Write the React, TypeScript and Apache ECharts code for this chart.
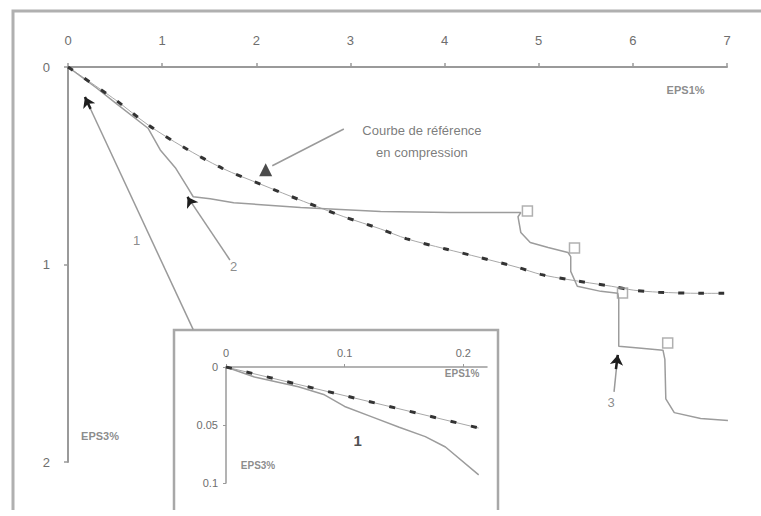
import React, { useEffect, useRef } from "react";
import * as echarts from "echarts";

// Main plot: strain EPS1% (horizontal) vs EPS3% (vertical, increasing downward)
const xTicks = [0, 1, 2, 3, 4, 5, 6, 7];
const yTicks = [0, 1, 2];

// Reference curve in compression (dashed)
const refX = [0, 0.5, 0.85, 1.22, 1.64, 2.06, 2.5, 2.93, 3.32, 3.6, 4.0, 4.38, 4.78, 5.02, 5.31, 5.77, 6.01, 6.27, 6.72, 6.97];
const refY = [0, 0.165, 0.293, 0.404, 0.513, 0.596, 0.68, 0.758, 0.82, 0.87, 0.92, 0.965, 1.015, 1.05, 1.076, 1.11, 1.13, 1.14, 1.146, 1.146];

// Test path (solid)
const testX = [0, 0.3, 0.5, 0.85, 0.98, 1.14, 1.27, 1.33, 1.51, 1.76, 2.47, 3.32, 4.06, 4.81, 4.78, 4.81, 4.91, 5.1, 5.31, 5.34, 5.34, 5.41, 5.66, 5.84, 5.85, 5.85, 6.09, 6.32, 6.34, 6.35, 6.44, 6.72, 7.01];
const testY = [0, 0.105, 0.18, 0.31, 0.42, 0.51, 0.61, 0.657, 0.667, 0.687, 0.712, 0.732, 0.737, 0.737, 0.758, 0.838, 0.889, 0.914, 0.939, 0.96, 1.035, 1.11, 1.136, 1.146, 1.177, 1.414, 1.424, 1.434, 1.48, 1.68, 1.75, 1.78, 1.79];

// Open square markers along the test path
const markX = [4.88, 5.38, 5.89, 6.37];
const markY = [0.729, 0.916, 1.144, 1.397];

// Inset: zoom on the origin
const insetXTicks = [0, 0.1, 0.2];
const insetYTicks = [0, 0.05, 0.1];
const insetRefX = [0, 0.213];
const insetRefY = [0, 0.0526];
const insetTestX = [0, 0.024, 0.061, 0.083, 0.1, 0.123, 0.146, 0.168, 0.185, 0.213];
const insetTestY = [0, 0.0086, 0.017, 0.024, 0.034, 0.043, 0.052, 0.06, 0.069, 0.093];

const pairs = (xs: number[], ys: number[]) => xs.map((x, i) => [x, ys[i]]);

const AXIS = "#9a9a9a";
const TEXT = "#6e6e6e";
const FONT = "Arial, 'Liberation Sans', sans-serif";

function textPoint(x: number, y: number, text: string, extra: any = {}) {
  return {
    value: [x, y],
    label: {
      show: true,
      position: "inside",
      formatter: text,
      color: TEXT,
      fontFamily: FONT,
      fontSize: 12,
      ...extra,
    },
  };
}

export default function App() {
  const ref = useRef<HTMLDivElement>(null);

  useEffect(() => {
    if (!ref.current) return;
    const chart = echarts.init(ref.current, null, { renderer: "svg" });

    const option: any = {
      animation: false,
      backgroundColor: "#ffffff",
      grid: [
        { left: 68, top: 67, width: 659, height: 395 },
        { left: 226, top: 367, width: 261, height: 116 },
      ],
      xAxis: [
        {
          type: "value",
          gridIndex: 0,
          position: "top",
          min: 0,
          max: 7,
          interval: 1,
          axisLine: { show: true, onZero: false, lineStyle: { color: AXIS, width: 2 } },
          axisTick: { show: true, length: 4, lineStyle: { color: AXIS, width: 1.5 } },
          axisLabel: {
            margin: 20,
            color: TEXT,
            fontSize: 13,
            fontFamily: FONT,
            customValues: xTicks,
          },
          splitLine: { show: false },
        },
        {
          type: "value",
          gridIndex: 1,
          position: "top",
          min: 0,
          max: 0.22,
          interval: 0.1,
          axisLine: { show: true, onZero: false, lineStyle: { color: AXIS, width: 1.5 } },
          axisTick: { show: true, length: 3, customValues: insetXTicks, lineStyle: { color: AXIS } },
          axisLabel: {
            margin: 9,
            color: TEXT,
            fontSize: 11,
            fontFamily: FONT,
            customValues: insetXTicks,
            formatter: (v: number) => String(v),
          },
          splitLine: { show: false },
        },
      ],
      yAxis: [
        {
          type: "value",
          gridIndex: 0,
          inverse: true,
          min: 0,
          max: 2,
          interval: 1,
          axisLine: { show: true, onZero: false, lineStyle: { color: AXIS, width: 2 } },
          axisTick: { show: true, length: 4, lineStyle: { color: AXIS, width: 1.5 } },
          axisLabel: {
            margin: 18,
            color: TEXT,
            fontSize: 13,
            fontFamily: FONT,
            customValues: yTicks,
          },
          splitLine: { show: false },
        },
        {
          type: "value",
          gridIndex: 1,
          inverse: true,
          min: 0,
          max: 0.1,
          interval: 0.05,
          axisLine: { show: true, onZero: false, lineStyle: { color: AXIS, width: 1.5 } },
          axisTick: { show: true, length: 3, lineStyle: { color: AXIS } },
          axisLabel: {
            margin: 8,
            color: TEXT,
            fontSize: 11,
            fontFamily: FONT,
            customValues: insetYTicks,
            formatter: (v: number) => String(v),
          },
          splitLine: { show: false },
        },
      ],
      series: [
        // reference curve: thin base line plus heavy dashes
        {
          type: "line",
          xAxisIndex: 0,
          yAxisIndex: 0,
          data: pairs(refX, refY),
          symbol: "none",
          smooth: 0.3,
          lineStyle: { color: "#a8a8a8", width: 1 },
          z: 3,
        },
        {
          type: "line",
          xAxisIndex: 0,
          yAxisIndex: 0,
          data: pairs(refX, refY),
          symbol: "none",
          smooth: 0.3,
          lineStyle: { color: "#333333", width: 3, type: [6, 14] },
          z: 4,
        },
        // test path
        {
          type: "line",
          xAxisIndex: 0,
          yAxisIndex: 0,
          data: pairs(testX, testY),
          symbol: "none",
          lineStyle: { color: "#9c9c9c", width: 1.5 },
          z: 3,
        },
        {
          type: "scatter",
          xAxisIndex: 0,
          yAxisIndex: 0,
          data: pairs(markX, markY),
          symbol: "rect",
          symbolSize: 10,
          itemStyle: { color: "rgba(255,255,255,0)", borderColor: "#9c9c9c", borderWidth: 1.5 },
          z: 5,
        },
        // leader lines
        {
          type: "lines",
          coordinateSystem: "cartesian2d",
          xAxisIndex: 0,
          yAxisIndex: 0,
          symbol: ["none", "none"],
          lineStyle: { color: AXIS, width: 1.5, opacity: 1 },
          data: [
            { coords: [[1.33, 1.33], [0.18, 0.152]] },
            { coords: [[1.72, 0.977], [1.27, 0.658]] },
            { coords: [[5.8, 1.645], [5.84, 1.458]] },
            { coords: [[2.93, 0.314], [2.17, 0.5]] },
          ],
          z: 4,
        },
        // arrow heads at the leader tips
        {
          type: "lines",
          coordinateSystem: "cartesian2d",
          xAxisIndex: 0,
          yAxisIndex: 0,
          symbol: ["none", "arrow"],
          symbolSize: 10,
          lineStyle: { color: "#1e1e1e", width: 2.5, opacity: 1 },
          data: [
            { coords: [[0.24, 0.212], [0.18, 0.152]] },
            { coords: [[1.31, 0.69], [1.27, 0.658]] },
            { coords: [[5.82, 1.53], [5.84, 1.458]] },
          ],
          z: 6,
        },
        {
          type: "scatter",
          xAxisIndex: 0,
          yAxisIndex: 0,
          data: [[2.1, 0.52]],
          symbol: "triangle",
          symbolSize: 13,
          itemStyle: { color: "#1e1e1e" },
          z: 6,
        },
        // main plot texts
        {
          type: "scatter",
          xAxisIndex: 0,
          yAxisIndex: 0,
          symbolSize: 0,
          silent: true,
          data: [
            textPoint(0.73, 0.876, "1", { fontSize: 13 }),
            textPoint(1.76, 1.01, "2", { fontSize: 13 }),
            textPoint(5.77, 1.7, "3", { fontSize: 13 }),
            textPoint(3.76, 0.375, "Courbe de référence\nen compression", {
              fontSize: 13,
              lineHeight: 22,
              align: "center",
              color: "#5a5a5a",
            }),
            textPoint(6.56, 0.116, "EPS1%", { fontSize: 11, fontWeight: "bold" }),
            textPoint(0.34, 1.87, "EPS3%", { fontSize: 11, fontWeight: "bold" }),
          ],
          z: 7,
        },
        // inset curves
        {
          type: "line",
          xAxisIndex: 1,
          yAxisIndex: 1,
          data: pairs(insetRefX, insetRefY),
          symbol: "none",
          lineStyle: { color: "#a8a8a8", width: 1 },
          z: 3,
        },
        {
          type: "line",
          xAxisIndex: 1,
          yAxisIndex: 1,
          data: pairs(insetRefX, insetRefY),
          symbol: "none",
          lineStyle: { color: "#333333", width: 3, type: [6, 15] },
          z: 4,
        },
        {
          type: "line",
          xAxisIndex: 1,
          yAxisIndex: 1,
          data: pairs(insetTestX, insetTestY),
          symbol: "none",
          lineStyle: { color: "#9c9c9c", width: 1.5 },
          z: 3,
        },
        {
          type: "scatter",
          xAxisIndex: 1,
          yAxisIndex: 1,
          symbolSize: 0,
          silent: true,
          data: [
            textPoint(0.111, 0.063, "1", { fontSize: 15, fontWeight: "bold", color: "#222" }),
            textPoint(0.199, 0.0055, "EPS1%", { fontSize: 10, fontWeight: "bold" }),
            textPoint(0.027, 0.0845, "EPS3%", { fontSize: 10, fontWeight: "bold" }),
          ],
          z: 7,
        },
      ],
      graphic: [
        {
          type: "polyline",
          silent: true,
          shape: { points: [[13, 510], [13, 11], [765, 11]] },
          style: { stroke: "#b0b0b0", lineWidth: 3, fill: "none" },
        },
        {
          type: "polyline",
          silent: true,
          shape: { points: [[174, 510], [174, 330], [498, 330], [498, 510]] },
          style: { stroke: "#a8a8a8", lineWidth: 2.5, fill: "none" },
        },
      ],
    };

    chart.setOption(option);
    return () => chart.dispose();
  }, []);

  return (
    <div
      ref={ref}
      style={{ position: "absolute", left: 0, top: 0, width: 761, height: 516 }}
    />
  );
}
